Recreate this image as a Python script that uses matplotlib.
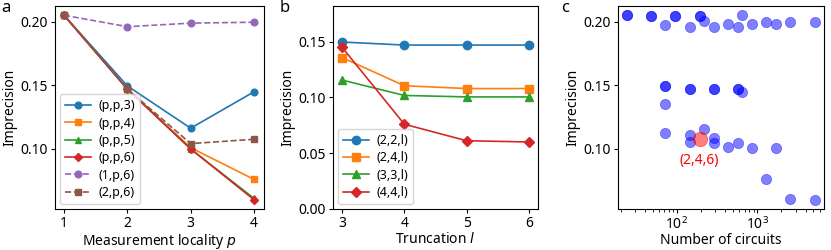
import numpy as np
import matplotlib
matplotlib.use('Agg')
import matplotlib.pyplot as plt

plt.rcParams['font.family'] = ['Noto Sans', 'DejaVu Sans']
plt.rcParams['font.size'] = 10

# panel a: measurement locality p
p_vals = [1, 2, 3, 4]
a_series = {
    '(p,p,3)': [0.205, 0.1495, 0.1163, 0.1449],
    '(p,p,4)': [0.205, 0.147, 0.101, 0.0761],
    '(p,p,5)': [0.205, 0.147, 0.100, 0.0612],
    '(p,p,6)': [0.205, 0.147, 0.100, 0.0601],
    '(1,p,6)': [0.205, 0.196, 0.1988, 0.1995],
    '(2,p,6)': [0.205, 0.147, 0.1042, 0.1076],
}
a_styles = [('C0', 'o', '-'), ('C1', 's', '-'), ('C2', '^', '-'),
            ('C3', 'D', '-'), ('C4', 'o', '--'), ('C5', 's', '--')]

# panel b: truncation l
l_vals = [3, 4, 5, 6]
b_series = {
    '(2,2,l)': [0.1497, 0.147, 0.147, 0.147],
    '(2,4,l)': [0.1358, 0.1105, 0.108, 0.108],
    '(3,3,l)': [0.1156, 0.1018, 0.1005, 0.1005],
    '(4,4,l)': [0.145, 0.076, 0.0612, 0.0601],
}
b_styles = [('C0', 'o'), ('C1', 's'), ('C2', '^'), ('C3', 'D')]

# panel c: imprecision vs number of circuits
n_circuits = [24, 24, 48, 48, 72, 96, 96, 144, 192, 192, 216, 288, 432, 576,
              648, 864, 1296, 1728, 2592, 5184,
              72, 72, 144, 144, 288, 288, 576, 576, 648,
              72, 72, 144, 144, 216, 288, 288, 432, 576, 864, 1728,
              1296, 2592, 5184]
imprecision = [0.205, 0.205, 0.2045, 0.2045, 0.197, 0.2045, 0.2045, 0.196,
               0.2045, 0.2045, 0.2005, 0.196, 0.198, 0.196, 0.205, 0.198,
               0.1998, 0.198, 0.1998, 0.1998,
               0.1494, 0.1494, 0.1467, 0.1467, 0.1467, 0.1467, 0.1467, 0.1467,
               0.1449,
               0.1354, 0.1126, 0.1108, 0.1055, 0.116, 0.1085, 0.1047, 0.1016,
               0.1047, 0.1008, 0.1008,
               0.0764, 0.0609, 0.0601]
hl_n = [192]
hl_y = [0.1075]
hl_label = '(2,4,6)'

fig = plt.figure(figsize=(8.31, 2.5), dpi=100)
ax_a = fig.add_axes([0.0656, 0.164, 0.2515, 0.812])
ax_b = fig.add_axes([0.4004, 0.164, 0.2473, 0.812])
ax_c = fig.add_axes([0.7433, 0.164, 0.2483, 0.812])

leg_kw = dict(loc='lower left', fontsize=9, handlelength=2.1,
              labelspacing=0.35, borderpad=0.4, borderaxespad=0.4,
              handletextpad=0.6)

for (name, vals), (c, m, ls) in zip(a_series.items(), a_styles):
    ms = 4.2 if m == 'D' else 4.8
    ax_a.plot(p_vals, vals, color=c, marker=m, ls=ls, lw=1.2, ms=ms, label=name)
ax_a.set_xticks(p_vals)
ax_a.set_yticks([0.10, 0.15, 0.20])
ax_a.set_xlabel('Measurement locality $p$', labelpad=0.5)
ax_a.set_ylabel('Imprecision', labelpad=2)
ax_a.legend(**leg_kw)

for (name, vals), (c, m) in zip(b_series.items(), b_styles):
    ms = 5.2 if m == 'D' else 6
    ax_b.plot(l_vals, vals, color=c, marker=m, lw=1.2, ms=ms, label=name)
ax_b.set_xticks(l_vals)
ax_b.set_ylim(0, 0.182)
ax_b.set_yticks([0.00, 0.05, 0.10, 0.15])
ax_b.set_xlabel('Truncation $l$', labelpad=0.5)
ax_b.set_ylabel('Imprecision', labelpad=2)
ax_b.legend(**leg_kw)

ax_c.scatter(n_circuits, imprecision, s=55, color='b', alpha=0.5, lw=0.5)
ax_c.scatter(hl_n, hl_y, s=110, color='r', alpha=0.5, lw=0.5)
ax_c.text(hl_n[0], 0.0906, hl_label, color='r', ha='center', va='center',
          fontsize=10)
ax_c.set_xscale('log')
ax_c.set_yticks([0.10, 0.15, 0.20])
ax_c.set_xlabel('Number of circuits', labelpad=0.5)
ax_c.set_ylabel('Imprecision', labelpad=2)

for ax, lab, x in [(ax_a, 'a', 0.002), (ax_b, 'b', 0.336), (ax_c, 'c', 0.675)]:
    ax.tick_params(labelsize=10, length=3, pad=2)
    ax.tick_params(which='minor', length=1.8)
    fig.text(x, 0.998, lab, fontweight='bold', fontsize=12, va='top')

fig.savefig('out.png', dpi=100)
